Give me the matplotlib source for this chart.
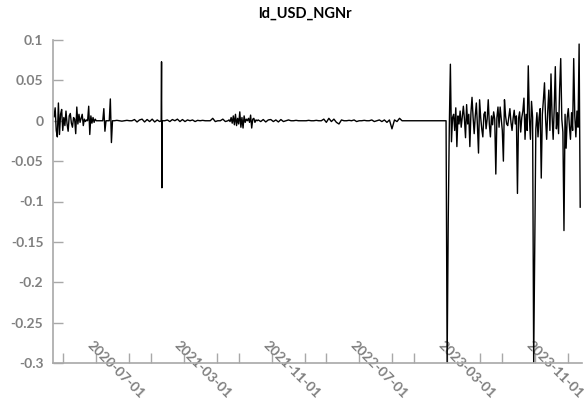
import numpy as np
import pandas as pd
import matplotlib
matplotlib.use("Agg")
import matplotlib.pyplot as plt
import matplotlib.transforms as mtransforms

plt.rcParams['font.family'] = ['Lato', 'DejaVu Sans']

# Rendimientos logarítmicos USD/NGN, por tramos (inicio, paso, valores)
tramo1 = [
    0.005, 0.016, -0.012, -0.020, 0.022, -0.017, 0.008, 0.014, -0.012, 0.004,
    -0.006, 0.012, -0.004, -0.013, 0.006, 0.009, -0.003, -0.008, 0.004, 0.002,
    -0.016, 0.017, -0.004, 0.008, -0.002, 0.003, 0.008, -0.006, 0.002, -0.001,
    0.001, 0.0, 0.018, -0.017, 0.006, -0.003, 0.004, -0.002, 0.002, 0.0,
    0.0, 0.0, 0.0, 0.0, 0.0, 0.0, 0.015, -0.013, 0.0, 0.0,
    0.0, 0.0, 0.027, -0.027, 0.0,
]
tramo2a = [
    0.0, 0.0005, 0.0, -0.0005, 0.0, 0.0005, 0.0, 0.0,
    0.0015, -0.0015, 0.001, 0.002, -0.0015, 0.0015, -0.001, 0.002, -0.0015, 0.001, -0.001,
]
pico = [0.0, 0.073, -0.083, 0.0]
tramo2b = [
    0.0, 0.001, -0.001, 0.0015, 0.0, 0.002, -0.001, 0.0015, -0.001, 0.001, 0.0,
    0.001, -0.001, 0.0005, 0.0, 0.0005, 0.0, 0.0,
    0.0, 0.003, -0.001, 0.0, 0.0, 0.002, -0.001,
]
tramo2c = [
    0.0, 0.001, -0.001, 0.004, -0.003, 0.006, -0.005, 0.008, -0.006, 0.003,
    -0.004, 0.011, -0.008, 0.004, -0.009, 0.006, -0.002, 0.002, 0.0, 0.003,
    -0.002, 0.007, -0.009, 0.002, 0.003, -0.002, 0.001, 0.0, 0.001,
]
tramo2d = [
    -0.001, 0.0015, -0.0015, 0.001, 0.0015, -0.001, 0.001, -0.0015, 0.0015,
    -0.001, 0.0, 0.001, 0.0, 0.0, 0.0005, 0.0,
    0.0, 0.0, 0.0, 0.0005, 0.0, 0.0, 0.0005, 0.0, 0.0,
    0.002, -0.002, 0.003, -0.001, 0.002, -0.002, -0.004, 0.001,
    0.0, 0.0, 0.0005, 0.0, 0.001, -0.001, 0.0, 0.0, 0.0005, 0.0,
    0.0, 0.001, -0.001, 0.0, 0.001, -0.001, 0.001, -0.002, 0.001,
    -0.010, 0.001, -0.001, 0.003, 0.0,
    0.0, 0.0, 0.0, 0.0, 0.0, 0.0, 0.0, 0.0, 0.0, 0.0, 0.0, 0.0, 0.0, 0.0, 0.0, 0.0,
]
tramo3 = [
    0.0, -0.299, -0.126, -0.008, 0.070, -0.026, 0.004, 0.008, -0.012, 0.016,
    -0.032, 0.006, -0.004, 0.012, -0.008, 0.005, 0.018, 0.002, -0.021, 0.020,
    -0.004, 0.008, -0.032, 0.010, 0.029, 0.004, -0.016, 0.006, 0.022, -0.006,
    -0.040, 0.026, 0.004, -0.010, -0.020, 0.008, 0.011, -0.010, 0.002, 0.026,
    -0.004, -0.020, 0.006, -0.005, 0.011, 0.002, -0.066, 0.004, 0.017, -0.008,
    0.017, 0.002, -0.012, -0.050, 0.026, 0.006, -0.004, -0.006, 0.004, 0.015,
    -0.002, -0.012, 0.003, 0.013, -0.004, 0.006, -0.090, 0.003, 0.011, -0.014,
    0.004, 0.012, 0.028, -0.023, 0.008, -0.012, 0.068, 0.004, -0.023, 0.024,
    0.004, -0.299, -0.157, -0.010, 0.010, -0.020, 0.004, 0.015, -0.071, 0.008,
    0.026, 0.047, 0.002, -0.023, 0.012, 0.038, -0.012, 0.058, 0.006, -0.023,
    0.016, 0.067, -0.010, 0.010, -0.016, 0.040, 0.077, 0.002, -0.014, -0.136,
    0.008, -0.034, 0.004, 0.015, -0.006, -0.023, 0.010, -0.012, 0.077, 0.006,
    -0.020, 0.012, -0.008, 0.095, -0.107,
]

tramos = [
    ('2020-03-07', '3D', tramo1),
    ('2020-08-21', '7D', tramo2a),
    ('2020-12-29', '1D', pico),
    ('2021-01-08', '7D', tramo2b),
    ('2021-07-02', '3D', tramo2c),
    ('2021-10-01', '7D', tramo2d),
    ('2023-02-27', '3D', tramo3),
]

fechas_mayores = ['2020-07-01', '2021-03-01', '2021-11-01', '2022-07-01', '2023-03-01', '2023-11-01']
fechas_menores = ['2020-04-01', '2020-10-01', '2020-12-01', '2021-06-01', '2021-08-01',
                  '2022-02-01', '2022-04-01', '2022-10-01', '2022-12-01', '2023-06-01',
                  '2023-08-01', '2024-02-01']
y_ticks = [0.1, 0.05, 0, -0.05, -0.1, -0.15, -0.2, -0.25, -0.3]
y_etiquetas = ['0.1', '0.05', '0', '-0.05', '-0.1', '-0.15', '-0.2', '-0.25', '-0.3']

serie = pd.concat([
    pd.Series(valores, index=pd.date_range(inicio, periods=len(valores), freq=paso))
    for inicio, paso, valores in tramos
])

gris_eje = '#a8a8a8'
gris_texto = '#808080'

fig = plt.figure(figsize=(5.84, 4.03), dpi=100)
ax = fig.add_axes([53 / 584, 40 / 403, 529 / 584, 323 / 403])

ax.plot(serie.index, serie.values, color='black', lw=1.0)

ax.set_ylim(-0.3, 0.1)
ax.set_xlim(pd.Timestamp('2020-03-04'), pd.Timestamp('2024-03-10'))

for lado in ['top', 'right']:
    ax.spines[lado].set_visible(False)
for lado in ['left', 'bottom']:
    ax.spines[lado].set_color(gris_eje)
    ax.spines[lado].set_linewidth(1.2)

ax.set_yticks(y_ticks, y_etiquetas, fontweight='bold', fontsize=10)
ax.set_xticks(pd.to_datetime(fechas_mayores), fechas_mayores, rotation=-45,
              ha='center', va='center', fontweight='bold', fontsize=10)
ax.set_xticks(pd.to_datetime(fechas_menores), minor=True)

ax.tick_params(axis='both', which='both', direction='in', length=7, width=1,
               color=gris_eje, labelcolor=gris_texto)
ax.tick_params(axis='y', pad=7)
ax.tick_params(axis='x', pad=4.7)

# desplazar las etiquetas de fecha a la derecha de cada marca
desplazamiento = mtransforms.ScaledTranslation(0.195, 0, fig.dpi_scale_trans)
for etiqueta in ax.get_xticklabels():
    etiqueta.set_transform(etiqueta.get_transform() + desplazamiento)

fig.text(305 / 584, 1 - 14 / 403, 'ld_USD_NGNr', ha='center', va='center',
         fontweight='bold', fontsize=10.5, color='black')

fig.savefig('out.png', dpi=100)
